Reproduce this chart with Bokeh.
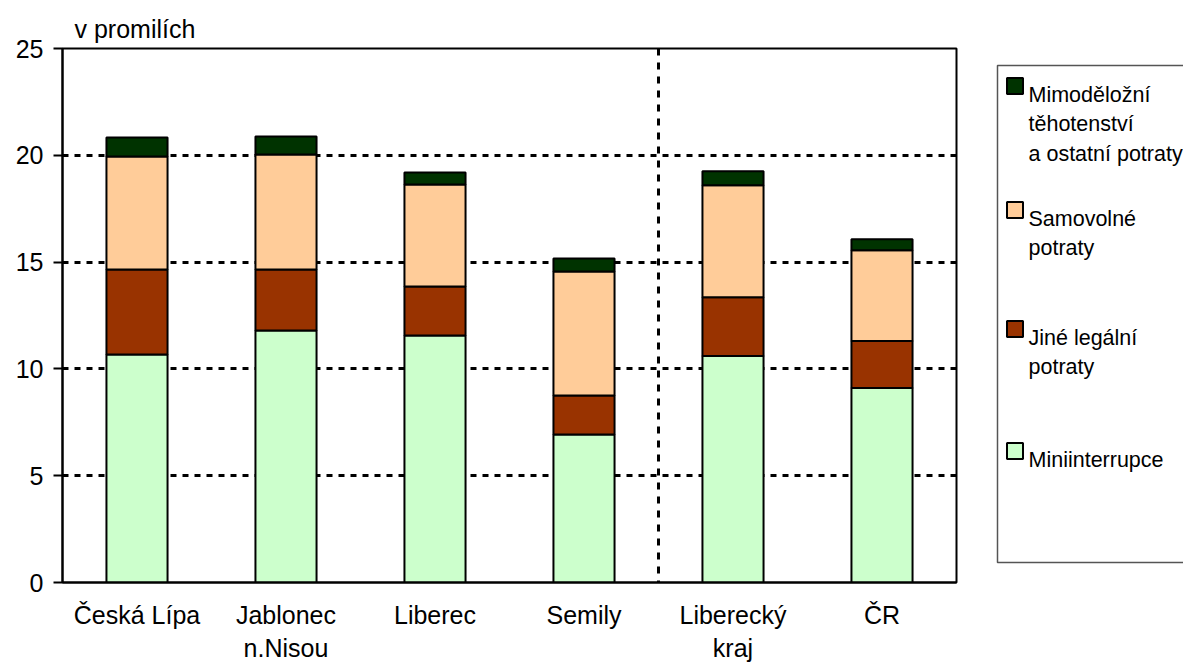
from bokeh.plotting import figure
from bokeh.models import ColumnDataSource, FactorRange, Range1d, FixedTicker, Span
from bokeh.layouts import row
from bokeh.embed import file_html
from bokeh.resources import INLINE
from bokeh.core.properties import value

# ---------------- data ----------------
categories = ["Česká Lípa", "Jablonec\nn.Nisou", "Liberec", "Semily", "Liberecký\nkraj", "ČR"]
miniinterrupce = [10.67, 11.80, 11.56, 6.93, 10.60, 9.11]
jine_legalni = [3.98, 2.85, 2.30, 1.82, 2.76, 2.20]
samovolne = [5.29, 5.39, 4.77, 5.81, 5.24, 4.25]
mimodelozni = [0.89, 0.84, 0.56, 0.61, 0.65, 0.51]
y_ticks = [0, 5, 10, 15, 20, 25]
series_keys = ["mini", "jine", "samo", "mimo"]
series_colors = ["#CCFFCC", "#993300", "#FFCC99", "#003300"]
legend_lines = [
    ["Mimoděložní", "těhotenství", "a ostatní potraty"],
    ["Samovolné", "potraty"],
    ["Jiné legální", " potraty"],
    ["Miniinterrupce"],
]
legend_colors = ["#003300", "#FFCC99", "#993300", "#CCFFCC"]
y_label = "v promilích"

FONT = "Liberation Sans"

source = ColumnDataSource(dict(cat=categories, mini=miniinterrupce, jine=jine_legalni,
                               samo=samovolne, mimo=mimodelozni))

MAIN_W, LEG_W, H = 968, 215, 666
FRAME_TOP, FRAME_BOTTOM = 48, 582

p = figure(x_range=FactorRange(factors=categories, range_padding=0),
           y_range=Range1d(0, 25),
           width=MAIN_W, height=H, output_backend="svg", toolbar_location=None,
           min_border_left=62, min_border_right=12, min_border_top=FRAME_TOP,
           min_border_bottom=H - FRAME_BOTTOM)

p.title.text = y_label
p.title.align = "left"
p.title.offset = 12
p.title.standoff = 12
p.title.text_font = FONT
p.title.text_font_size = "25px"
p.title.text_font_style = "normal"
p.title.text_color = "black"

p.vbar_stack(series_keys, x="cat", width=0.41, source=source, color=series_colors,
             line_color="black", line_width=2)

p.outline_line_color = "black"
p.outline_line_width = 2
p.xgrid.grid_line_color = None
p.ygrid.ticker = FixedTicker(ticks=y_ticks)
p.ygrid.grid_line_color = "black"
p.ygrid.grid_line_width = 3
p.ygrid.grid_line_dash = "6 6"

p.yaxis.ticker = FixedTicker(ticks=y_ticks)
p.yaxis.axis_line_width = 2
p.yaxis.major_tick_line_width = 2
p.yaxis.major_tick_out = 9
p.yaxis.major_tick_in = 0
p.yaxis.minor_tick_line_color = None
p.yaxis.major_label_text_font = FONT
p.yaxis.major_label_text_font_size = "25px"
p.yaxis.major_label_text_color = "black"
p.yaxis.major_label_standoff = 10

p.xaxis.axis_line_width = 2
p.xaxis.major_tick_line_color = None
p.xaxis.minor_tick_line_color = None
p.xaxis.major_label_text_font = FONT
p.xaxis.major_label_text_font_size = "25px"
p.xaxis.major_label_text_color = "black"
p.xaxis.major_label_standoff = 12

divider = Span(location=4, dimension="height", line_color="black", line_width=3, line_dash="7 7")
p.add_layout(divider)

# ---------------- legend panel (coordinates = page pixels; frame aligned with main plot) ----------------
L = figure(width=LEG_W, height=H, x_range=Range1d(MAIN_W, MAIN_W + LEG_W),
           y_range=Range1d(FRAME_BOTTOM, FRAME_TOP),
           output_backend="svg", toolbar_location=None,
           min_border_left=0, min_border_right=0, min_border_top=FRAME_TOP,
           min_border_bottom=H - FRAME_BOTTOM)
L.axis.visible = False
L.grid.grid_line_color = None
L.outline_line_color = None

L.quad(left=[997], right=[1250], top=[65], bottom=[562], fill_color=None,
       line_color="#555555", line_width=1.5)

item_baselines = [94, 218, 337, 459]
line_step = 29.5
sq_x, sq_y, sq_c = [], [], []
tx, ty, tt = [], [], []
for i, lines in enumerate(legend_lines):
    base = item_baselines[i]
    sq_x.append(1014.5)
    sq_y.append(base - 8.5)
    sq_c.append(legend_colors[i])
    for j, t in enumerate(lines):
        tx.append(1028)
        ty.append(base + j * line_step)
        tt.append(t)

L.rect(x=sq_x, y=sq_y, width=16, height=16, fill_color=sq_c, line_color="black", line_width=2)
L.text(x=tx, y=ty, text=tt, text_font=value(FONT), text_font_size="21.5px",
       text_baseline="alphabetic", text_color="black")

layout = row(p, L)
open("out.html", "w").write(file_html(layout, INLINE))
